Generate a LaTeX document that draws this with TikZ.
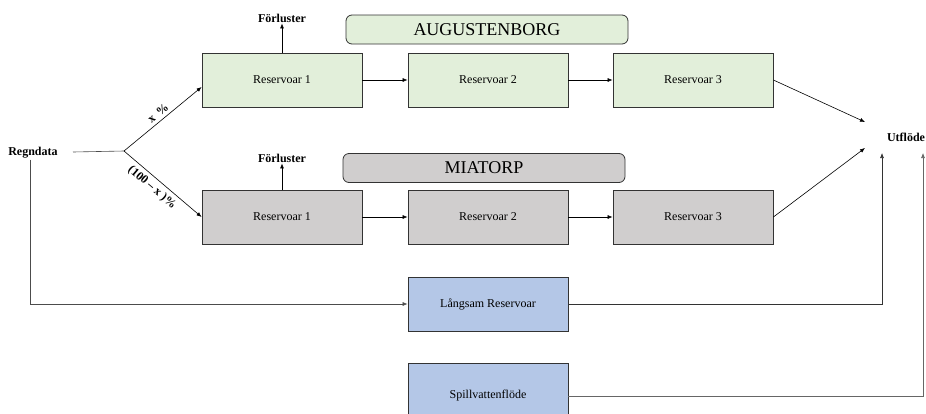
\documentclass[tikz,border=0pt]{standalone}
\usepackage{fontspec}
\setmainfont{Liberation Serif}
\usetikzlibrary{arrows.meta}
\definecolor{gruen}{HTML}{E2EFDA}
\definecolor{grau}{HTML}{D0CECE}
\definecolor{blau}{HTML}{B4C7E7}

\begin{document}
\begin{tikzpicture}[x=1pt, y=-1pt,
    box/.style={draw=black!80, line width=0.8pt, minimum width=160pt, minimum height=54pt, inner sep=0pt, font=\fontsize{12}{14}\selectfont},
    titel/.style={draw=black!80, line width=0.8pt, rounded corners=6pt, minimum width=282pt, minimum height=29pt, inner sep=0pt, font=\fontsize{18}{20}\selectfont},
    lbl/.style={inner sep=1pt, font=\bfseries\fontsize{12}{14}\selectfont},
    pil/.style={-{Latex[length=5pt,width=4pt]}, line width=0.6pt}]
    \useasboundingbox (0,0) rectangle (926,413);

    % Reservoarer (Augustenborg oben, Miatorp unten)
    \foreach \i/\xx in {1/282, 2/488, 3/693} {
        \node[box, fill=gruen] (a\i) at (\xx,80) {Reservoar \i};
        \node[box, fill=grau] (m\i) at (\xx,217) {Reservoar \i};
    }
    \foreach \i/\j in {1/2, 2/3} {
        \draw[pil] (a\i) -- (a\j);
        \draw[pil] (m\i) -- (m\j);
    }
    \node[titel, fill=gruen] (aug) at (487,29.5) {AUGUSTENBORG};
    \node[titel, fill=grau] (mia) at (484,168) {MIATORP};

    % Förluster
    \node[lbl] (fa) at (282,18) {Förluster};
    \node[lbl] (fm) at (282,158) {Förluster};
    \draw[pil] (a1.north) -- (fa.south);
    \draw[pil] (m1.north) -- (fm.south);

    % Regndata och fördelning
    \node[lbl] (rd) at (33,153) {Regndata};
    \coordinate (rs) at (73,152);
    \coordinate (gren) at (124,151);
    \draw[line width=0.6pt, black!70] (rs) -- (gren);
    \draw[pil] (gren) -- node[lbl, midway, above=2pt, sloped] {x \,\%} ([yshift=-7pt]a1.west);
    \draw[pil] (gren) -- node[lbl, midway, below=3pt, sloped, xshift=-6pt] {(100 – x )\%} (m1.west);

    % Långsam reservoar och spillvatten
    \node[box, fill=blau] (lr) at (488,304) {Långsam Reservoar};
    \node[box, fill=blau] (sv) at (488,390) {};
    \node[font=\fontsize{12}{14}\selectfont] (svt) at (488,396) {Spillvattenflöde};
    \draw[pil, black!70] ([xshift=-3pt]rd.south) |- (lr.west);

    % Utflöde
    \node[lbl] (ut) at (906,137) {Utflöde};
    \coordinate (u1) at (865,122);
    \coordinate (u2) at (865,148);
    \coordinate (u3) at (882,153);
    \coordinate (u4) at (923,153);
    \draw[pil] (a3.east) -- (u1);
    \draw[pil] (m3.east) -- (u2);
    \draw[pil, black!80] (lr.east) -| (u3);
    \draw[pil, black!60] (sv.east |- svt) -| (u4);
\end{tikzpicture}
\end{document}
